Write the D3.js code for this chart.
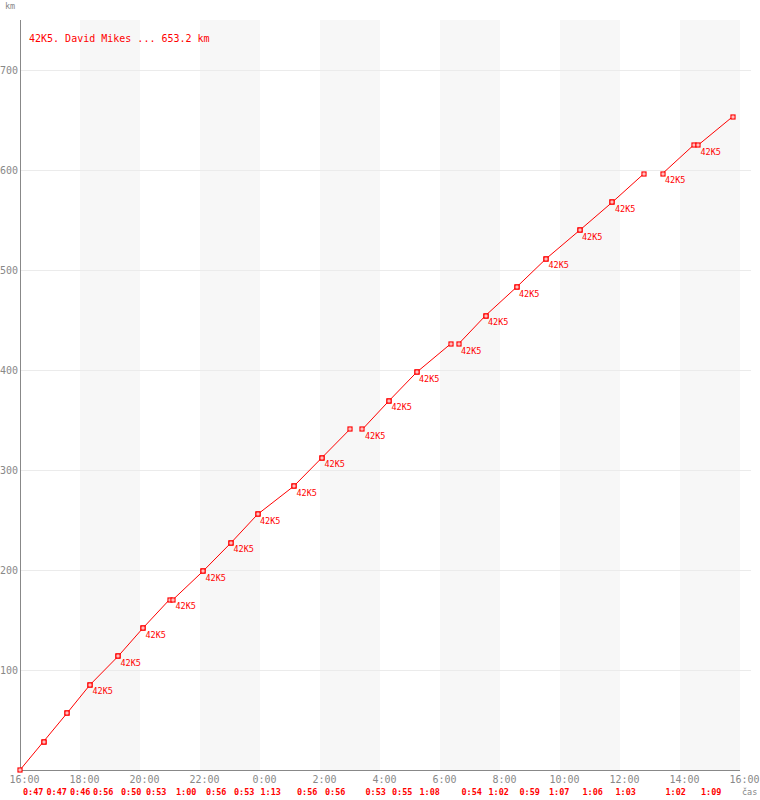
<!DOCTYPE html>
<html>
<head>
<meta charset="utf-8">
<script src="https://cdn.jsdelivr.net/npm/d3@7"></script>
<style>
  body { margin: 0; background: #fff; }
  text { font-family: "DejaVu Sans Mono", monospace; }
</style>
</head>
<body>
<div id="chart"></div>
<script>
// lap data: start / end clock time, distance at end of lap, lap time label
const lapStart = ["16:00", "16:47", "17:34", "18:20", "19:16", "20:06", "21:06", "22:06", "23:02", "23:55", "1:08", "2:04",
                  "3:25", "4:18", "5:13", "6:37", "7:31", "8:33", "9:32", "10:39", "11:45", "13:25", "14:36"];
const lapEnd   = ["16:47", "17:34", "18:20", "19:16", "20:06", "20:59", "22:06", "23:02", "23:55", "1:08", "2:04", "3:00",
                  "4:18", "5:13", "6:21", "7:31", "8:33", "9:32", "10:39", "11:45", "12:48", "14:27", "15:45"];
const lapKm    = [28.4, 56.8, 85.2, 113.6, 142.0, 170.4, 198.8, 227.2, 255.6, 284.0, 312.4, 340.8,
                  369.2, 397.6, 426.0, 454.4, 482.8, 511.2, 539.6, 568.0, 596.4, 624.8, 653.2];
const lapTime  = ["0:47", "0:47", "0:46", "0:56", "0:50", "0:53", "1:00", "0:56", "0:53", "1:13", "0:56", "0:56",
                  "0:53", "0:55", "1:08", "0:54", "1:02", "0:59", "1:07", "1:06", "1:03", "1:02", "1:09"];
const lapCar   = ["", "", "", "42K5", "42K5", "42K5", "42K5", "42K5", "42K5", "42K5", "42K5", "42K5",
                  "42K5", "42K5", "42K5", "42K5", "42K5", "42K5", "42K5", "42K5", "42K5", "42K5", "42K5"];
const yTicks = [100, 200, 300, 400, 500, 600, 700];
const title = "42K5. David Mikes ... 653.2 km";

const width = 760, height = 800;
const t0 = new Date(2000, 0, 1, 16, 0);
const t1 = new Date(2000, 0, 2, 16, 0);

// clock string -> Date, rolling over midnight
function toDate(s) {
  const [h, m] = s.split(":").map(Number);
  return new Date(2000, 0, h >= 16 ? 1 : 2, h, m);
}

const laps = lapStart.map((s, i) => ({
  start: toDate(s),
  end: toDate(lapEnd[i]),
  km0: i === 0 ? 0 : lapKm[i - 1],
  km1: lapKm[i],
  time: lapTime[i],
  car: lapCar[i]
}));

const x = d3.scaleTime().domain([t0, t1]).range([20, 740]);
const y = d3.scaleLinear().domain([0, 750]).range([770, 20]);

const svg = d3.select("#chart").append("svg")
  .attr("width", width)
  .attr("height", height);

// shaded 2-hour bands
const bandTicks = d3.timeHour.every(2).range(t0, t1);
svg.append("g").selectAll("rect")
  .data(bandTicks.filter((d, i) => i % 2 === 1))
  .join("rect")
  .attr("x", d => x(d))
  .attr("y", y(750))
  .attr("width", d => x(d3.timeHour.offset(d, 2)) - x(d))
  .attr("height", y(0) - y(750))
  .attr("fill", "#f7f7f7");

// horizontal grid
svg.append("g").selectAll("line")
  .data(yTicks)
  .join("line")
  .attr("x1", 21).attr("x2", 751)
  .attr("y1", d => y(d) + 0.5).attr("y2", d => y(d) + 0.5)
  .attr("stroke", "#ebebeb");

// axes
const xAxis = svg.append("g")
  .attr("transform", `translate(0,${y(0)})`)
  .call(d3.axisBottom(x).ticks(d3.timeHour.every(2)).tickFormat(d3.timeFormat("%-H:%M")).tickSize(0).tickPadding(6));
xAxis.select(".domain").attr("stroke", "#888").attr("d", `M20,0.5H740`);
xAxis.selectAll("text").attr("fill", "#888").attr("font-size", 10).attr("dx", 4)
  .style("font-family", "'DejaVu Sans Mono', monospace");

const yAxis = svg.append("g")
  .attr("transform", "translate(20,0)")
  .call(d3.axisLeft(y).tickValues(yTicks).tickSize(0).tickPadding(2));
yAxis.select(".domain").attr("stroke", "#888").attr("d", `M0.5,${y(750)}V${y(0)}`);
yAxis.selectAll("text").attr("fill", "#888").attr("font-size", 10)
  .style("font-family", "'DejaVu Sans Mono', monospace");

svg.append("text").attr("x", 5).attr("y", 9)
  .attr("font-size", 8.5).attr("fill", "#888").text("km");
svg.append("text").attr("x", 742).attr("y", 795)
  .attr("font-size", 8.5).attr("fill", "#888").text("čas");

// lap lines
svg.append("g").selectAll("line")
  .data(laps)
  .join("line")
  .attr("x1", d => x(d.start)).attr("y1", d => y(d.km0))
  .attr("x2", d => x(d.end)).attr("y2", d => y(d.km1))
  .attr("stroke", "#f00")
  .attr("stroke-width", 1);

// markers at lap start and end
const pts = [];
laps.forEach(d => {
  pts.push({ t: d.start, km: d.km0 });
  pts.push({ t: d.end, km: d.km1 });
});
const mk = svg.append("g").selectAll("g")
  .data(pts)
  .join("g")
  .attr("transform", d => `translate(${Math.round(x(d.t))},${Math.round(y(d.km))})`);
mk.append("rect")
  .attr("x", -2).attr("y", -2).attr("width", 4).attr("height", 4)
  .attr("fill", "#fff").attr("stroke", "#f00").attr("stroke-width", 1.2);
mk.append("rect")
  .attr("x", -0.5).attr("y", -0.5).attr("width", 1).attr("height", 1)
  .attr("fill", "#f00");

// car labels at lap starts
svg.append("g").selectAll("text")
  .data(laps.filter(d => d.car))
  .join("text")
  .attr("x", d => x(d.start) + 2.5)
  .attr("y", d => y(d.km0) + 9.5)
  .attr("font-size", 8.5)
  .attr("fill", "#f00")
  .text(d => d.car);

// lap times under the axis
svg.append("g").selectAll("text")
  .data(laps)
  .join("text")
  .attr("x", d => x(d.start) + 3)
  .attr("y", 795)
  .attr("font-size", 8.5)
  .attr("font-weight", "bold")
  .attr("fill", "#f00")
  .text(d => d.time);

svg.append("text")
  .attr("x", 29).attr("y", 42)
  .attr("font-size", 10)
  .attr("fill", "#f00")
  .text(title);
</script>
</body>
</html>
